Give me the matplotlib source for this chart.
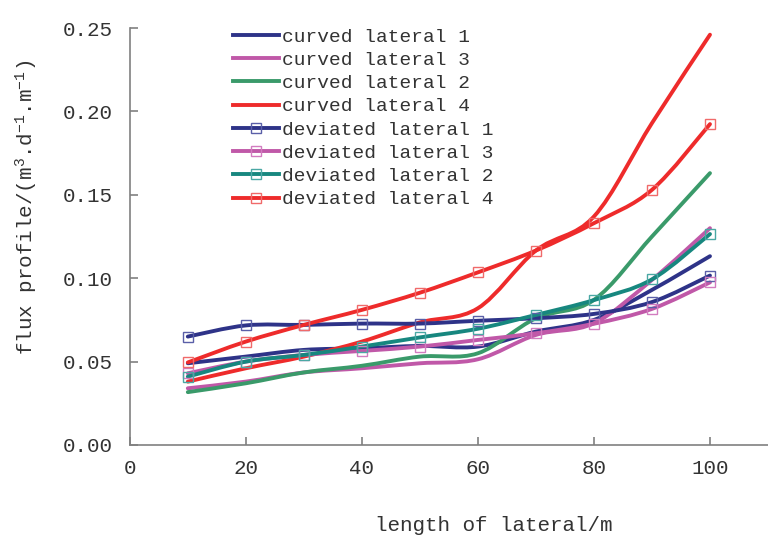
import numpy as np
import matplotlib
matplotlib.use('Agg')
import matplotlib.pyplot as plt
from matplotlib.path import Path
from matplotlib.patches import PathPatch
from matplotlib.lines import Line2D

plt.rcParams['font.family'] = ['Liberation Mono', 'DejaVu Sans Mono']
plt.rcParams['mathtext.fontset'] = 'custom'
plt.rcParams['mathtext.rm'] = 'Liberation Mono'
plt.rcParams['mathtext.it'] = 'Liberation Mono'

# 거리 (m)
x = [10, 20, 30, 40, 50, 60, 70, 80, 90, 100]

curved_1 = [0.049, 0.053, 0.057, 0.058, 0.0594, 0.059, 0.068, 0.075, 0.093, 0.1132]
curved_3 = [0.034, 0.038, 0.0435, 0.046, 0.049, 0.0514, 0.066, 0.073, 0.099, 0.130]
curved_2 = [0.0317, 0.037, 0.0435, 0.0475, 0.053, 0.055, 0.076, 0.087, 0.125, 0.163]
curved_4 = [0.038, 0.046, 0.053, 0.062, 0.0735, 0.082, 0.1166, 0.137, 0.193, 0.246]

deviated_1 = [0.065, 0.0717, 0.072, 0.0728, 0.0728, 0.0745, 0.076, 0.0786, 0.0857, 0.1016]
deviated_3 = [0.043, 0.050, 0.054, 0.0564, 0.059, 0.063, 0.067, 0.0727, 0.0816, 0.0975]
deviated_2 = [0.041, 0.050, 0.054, 0.059, 0.0645, 0.0697, 0.078, 0.0869, 0.0993, 0.1265]
deviated_4 = [0.0495, 0.062, 0.072, 0.081, 0.0913, 0.1035, 0.1166, 0.133, 0.153, 0.1924]

labels = ['curved lateral 1', 'curved lateral 3', 'curved lateral 2', 'curved lateral 4',
          'deviated lateral 1', 'deviated lateral 3', 'deviated lateral 2', 'deviated lateral 4']
series = [curved_1, curved_3, curved_2, curved_4, deviated_1, deviated_3, deviated_2, deviated_4]
colors = ['#2e3388', '#c058a8', '#3a9a6a', '#ee2b2b', '#2e3388', '#c058a8', '#17877f', '#ee2b2b']
marker_colors = [None, None, None, None, '#5a5fa8', '#d27cc0', '#4aa8a4', '#f06a6a']


def smooth_path(xs, ys):
    # 엑셀 스타일 부드러운 선 (베지어 제어점)
    p = np.column_stack([xs, ys]).astype(float)
    n = len(p)
    verts = [p[0]]
    codes = [Path.MOVETO]
    for i in range(n - 1):
        p0 = p[i - 1] if i > 0 else p[i]
        p3 = p[i + 2] if i + 2 < n else p[i + 1]
        c1 = p[i] + (p[i + 1] - p0) / 6
        c2 = p[i + 1] - (p3 - p[i]) / 6
        verts += [c1, c2, p[i + 1]]
        codes += [Path.CURVE4] * 3
    return Path(verts, codes)


fig = plt.figure(figsize=(7.68, 5.39), dpi=100)
ax = fig.add_axes([0.169, 0.1744, 0.831, 0.7736])

handles = []
for ys, c, mc, lab in zip(series, colors, marker_colors, labels):
    ax.add_patch(PathPatch(smooth_path(x, ys), fill=False, edgecolor=c, lw=2.8,
                           capstyle='round', joinstyle='round', zorder=2))
    if mc:
        ax.plot(x, ys, ls='none', marker='s', ms=7.5, mfc='none', mec=mc, mew=1.0, zorder=3)
        handles.append(Line2D([], [], color=c, lw=2.8, marker='s', ms=7.5, mfc='none', mec=mc, mew=1.0))
    else:
        handles.append(Line2D([], [], color=c, lw=2.8))

ax.set_xlim(0, 110)
ax.set_ylim(0, 0.25)
ax.set_xticks([0, 20, 40, 60, 80, 100])
ax.set_yticks([0, 0.05, 0.10, 0.15, 0.20, 0.25])
ax.set_yticklabels(['0.00', '0.05', '0.10', '0.15', '0.20', '0.25'])

for s in ['top', 'right']:
    ax.spines[s].set_visible(False)
for s in ['left', 'bottom']:
    ax.spines[s].set_color('#808080')
    ax.spines[s].set_linewidth(1.2)
ax.tick_params(direction='in', length=6, width=1.2, color='#808080', labelcolor='#333333', labelsize=15)
ax.tick_params(axis='x', pad=10)
ax.tick_params(axis='y', pad=12)

ax.set_xlabel('length of lateral/m', fontsize=15, color='#333333')
ax.xaxis.set_label_coords(0.57, -0.17)
ax.set_ylabel(r'flux profile/(m$^{3}$.d$^{-1}$.m$^{-1}$)', fontsize=15, color='#333333')
ax.yaxis.set_label_coords(-0.14, 0.57)

leg = ax.legend(handles, labels, loc='upper left', bbox_to_anchor=(0.161, 1.0), frameon=False,
                fontsize=14, handlelength=2.4, handletextpad=0.12, labelspacing=0.29,
                borderaxespad=0.0, borderpad=0.0, labelcolor='#333333')

plt.savefig('out.png', dpi=100)
